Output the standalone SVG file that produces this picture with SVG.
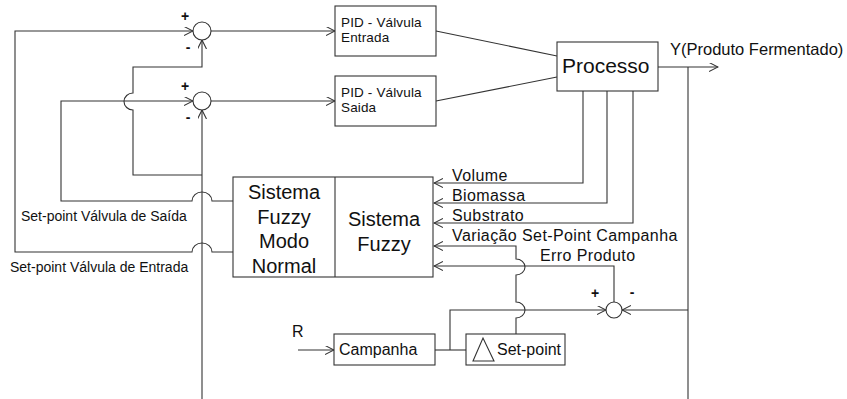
<svg xmlns="http://www.w3.org/2000/svg" width="847" height="399" viewBox="0 0 847 399">
<style>
.ln{fill:none;stroke:#333;stroke-width:1.1}
.bx{fill:#fff;stroke:#333;stroke-width:1.1}
text{font-family:"Liberation Sans",Arial,sans-serif;fill:#111}
.s14{font-size:14px}
.pid{font-size:13.5px;letter-spacing:0.15px}
.s16{font-size:16px}
.lab{font-size:16px;letter-spacing:0.4px}
.big{font-size:20px;text-anchor:middle}
.sg{font-size:14px;font-weight:bold;text-anchor:middle}
</style>
<defs>
<marker id="arr" markerUnits="userSpaceOnUse" markerWidth="10" markerHeight="10" refX="9" refY="4.5" orient="auto">
<path d="M0,0 L9,4.5 L0,9" fill="none" stroke="#333" stroke-width="1.1"/>
</marker>
</defs>
<rect width="847" height="399" fill="#fff"/>
<g id="connectors">
<path class="ln" d="M233,252 H212 A10,9 0 0 0 192,252 H15 V31 H193" marker-end="url(#arr)"/>
<path class="ln" d="M233,201 H212 A10,9 0 0 0 192,201 H61 V101 H193" marker-end="url(#arr)"/>
<path class="ln" d="M202,399 V110" marker-end="url(#arr)"/>
<path class="ln" d="M202,175 H133 V110 A9,8.5 0 0 1 133,93 V67 H202 V40" marker-end="url(#arr)"/>
<path class="ln" d="M211,31 H335" marker-end="url(#arr)"/>
<path class="ln" d="M211,101 H335" marker-end="url(#arr)"/>
<path class="ln" d="M436,31 L557,56"/>
<path class="ln" d="M436,101 L557,77"/>
<path class="ln" d="M658,67 H718" marker-end="url(#arr)"/>
<path class="ln" d="M688,67 V399"/>
<path class="ln" d="M688,310 H622" marker-end="url(#arr)"/>
<path class="ln" d="M583,91 V183 H434" marker-end="url(#arr)"/>
<path class="ln" d="M607,91 V203 H434" marker-end="url(#arr)"/>
<path class="ln" d="M633,91 V223 H434" marker-end="url(#arr)"/>
<path class="ln" d="M516,334 V318 A9,8 0 0 0 516,302 V275 A9,8 0 0 0 516,259 V246 H434" marker-end="url(#arr)"/>
<path class="ln" d="M614,302 V266 H434" marker-end="url(#arr)"/>
<path class="ln" d="M298,350 H334" marker-end="url(#arr)"/>
<path class="ln" d="M435,350 H466"/>
<path class="ln" d="M450,350 V310 H606" marker-end="url(#arr)"/>
</g>
<g id="sum1">
<circle class="bx" cx="202" cy="31" r="9"/>
<text class="sg" x="185" y="21">+</text>
<text class="sg" x="188" y="52">-</text>
</g>
<g id="sum2">
<circle class="bx" cx="202" cy="101" r="9"/>
<text class="sg" x="185" y="91">+</text>
<text class="sg" x="188" y="122">-</text>
</g>
<g id="sum3">
<circle class="bx" cx="614" cy="310" r="8"/>
<text class="sg" x="595" y="298">+</text>
<text class="sg" x="632" y="297">-</text>
</g>
<g id="pid-entrada">
<rect class="bx" x="335" y="6" width="101" height="50"/>
<text class="pid" x="341" y="26.5">PID - Válvula</text>
<text class="pid" x="341" y="42">Entrada</text>
</g>
<g id="pid-saida">
<rect class="bx" x="335" y="76" width="101" height="50"/>
<text class="pid" x="341" y="96.5">PID - Válvula</text>
<text class="pid" x="341" y="112">Saida</text>
</g>
<g id="processo">
<rect class="bx" x="557" y="42" width="101" height="49"/>
<text x="562" y="73" style="font-size:21px">Processo</text>
</g>
<g id="saida-y">
<text x="670" y="55" style="font-size:16.5px">Y(Produto Fermentado)</text>
</g>
<g id="fuzzy">
<rect class="bx" x="233" y="177" width="200" height="100"/>
<line class="ln" x1="335" y1="177" x2="335" y2="277"/>
<text class="big" x="284" y="199">Sistema</text>
<text class="big" x="284" y="224">Fuzzy</text>
<text class="big" x="284" y="248">Modo</text>
<text class="big" x="284" y="273">Normal</text>
<text class="big" x="384" y="226">Sistema</text>
<text class="big" x="384" y="251">Fuzzy</text>
</g>
<g id="labels">
<text class="lab" x="452" y="181">Volume</text>
<text class="lab" x="452" y="201">Biomassa</text>
<text class="lab" x="452" y="221">Substrato</text>
<text class="lab" x="452" y="241">Variação Set-Point Campanha</text>
<text class="lab" x="540" y="261">Erro Produto</text>
<text class="s14" x="21" y="221">Set-point Válvula de Saída</text>
<text class="s14" x="10" y="272">Set-point Válvula de Entrada</text>
<text class="s16" x="292" y="337">R</text>
</g>
<g id="campanha">
<rect class="bx" x="334" y="334" width="101" height="31"/>
<text class="s16" x="339" y="355">Campanha</text>
</g>
<g id="setpoint">
<rect class="bx" x="466" y="334" width="99" height="31"/>
<path class="ln" d="M473,361 L483,338 L494,361 Z"/>
<text class="s16" x="497" y="355">Set-point</text>
</g>
</svg>
